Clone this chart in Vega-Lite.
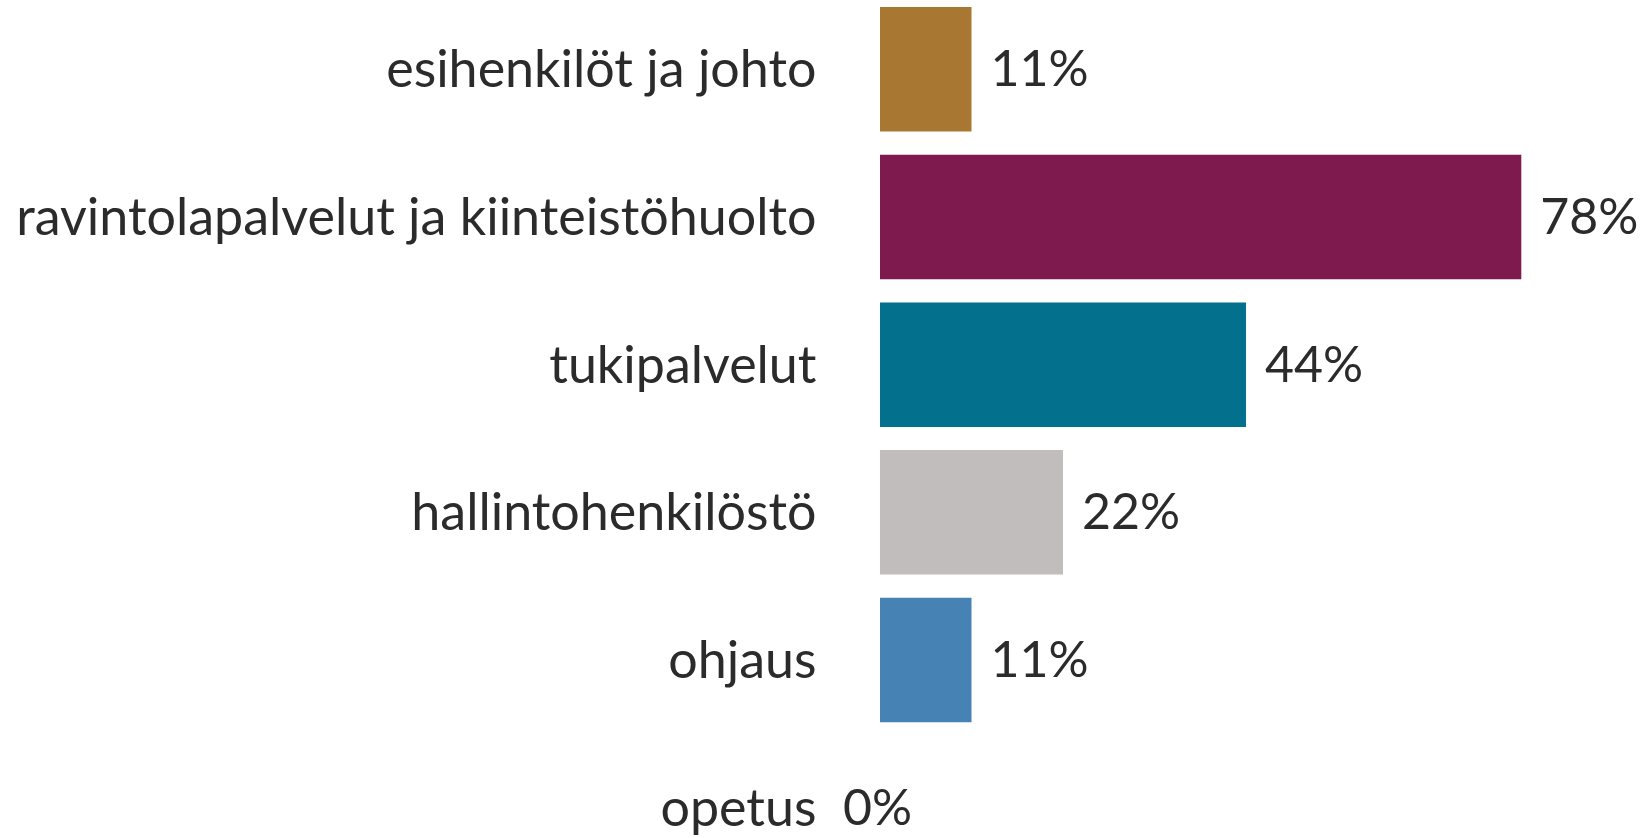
{
  "$schema": "https://vega.github.io/schema/vega-lite/v6.json",
  "autosize": {"type": "none"},
  "padding": {"left": 880, "top": 7, "right": 0, "bottom": 0},
  "width": 760,
  "height": 863,
  "background": "white",
  "config": {"view": {"stroke": null}, "font": "Lato"},
  "data": {"values": [
    {"group": "esihenkilöt ja johto", "share": 0.111},
    {"group": "ravintolapalvelut ja kiinteistöhuolto", "share": 0.778},
    {"group": "tukipalvelut", "share": 0.444},
    {"group": "hallintohenkilöstö", "share": 0.222},
    {"group": "ohjaus", "share": 0.111},
    {"group": "opetus", "share": 0}
  ]},
  "encoding": {
    "y": {
      "field": "group", "type": "nominal", "sort": null,
      "scale": {"paddingInner": 0.157, "paddingOuter": 0},
      "axis": {"title": null, "ticks": false, "domain": false, "labelPadding": 64, "labelOffset": 2, "labelFontSize": 52, "labelColor": "#2b2b2b", "labelLimit": 0, "labelFont": "Lato"}
    },
    "x": {
      "field": "share", "type": "quantitative",
      "scale": {"domain": [0, 0.922]},
      "axis": null
    }
  },
  "layer": [
    {
      "mark": {"type": "bar"},
      "encoding": {
        "color": {
          "field": "group", "type": "nominal", "legend": null,
          "scale": {
            "domain": ["esihenkilöt ja johto", "ravintolapalvelut ja kiinteistöhuolto", "tukipalvelut", "hallintohenkilöstö", "ohjaus", "opetus"],
            "range": ["#A87732", "#7F1A4F", "#03708E", "#C1BDBC", "#4682B4", "#888888"]
          }
        }
      }
    },
    {
      "transform": [{"filter": "datum.share > 0"}],
      "mark": {"type": "text", "align": "left", "baseline": "middle", "dx": 19, "dy": 2, "fontSize": 50, "color": "#2b2b2b", "font": "Lato"},
      "encoding": {"text": {"field": "share", "type": "quantitative", "format": ".0%"}}
    },
    {
      "transform": [{"filter": "datum.share == 0"}],
      "mark": {"type": "text", "align": "left", "baseline": "middle", "dx": -37, "dy": 2, "fontSize": 50, "color": "#2b2b2b", "font": "Lato"},
      "encoding": {"text": {"field": "share", "type": "quantitative", "format": ".0%"}}
    }
  ]
}
